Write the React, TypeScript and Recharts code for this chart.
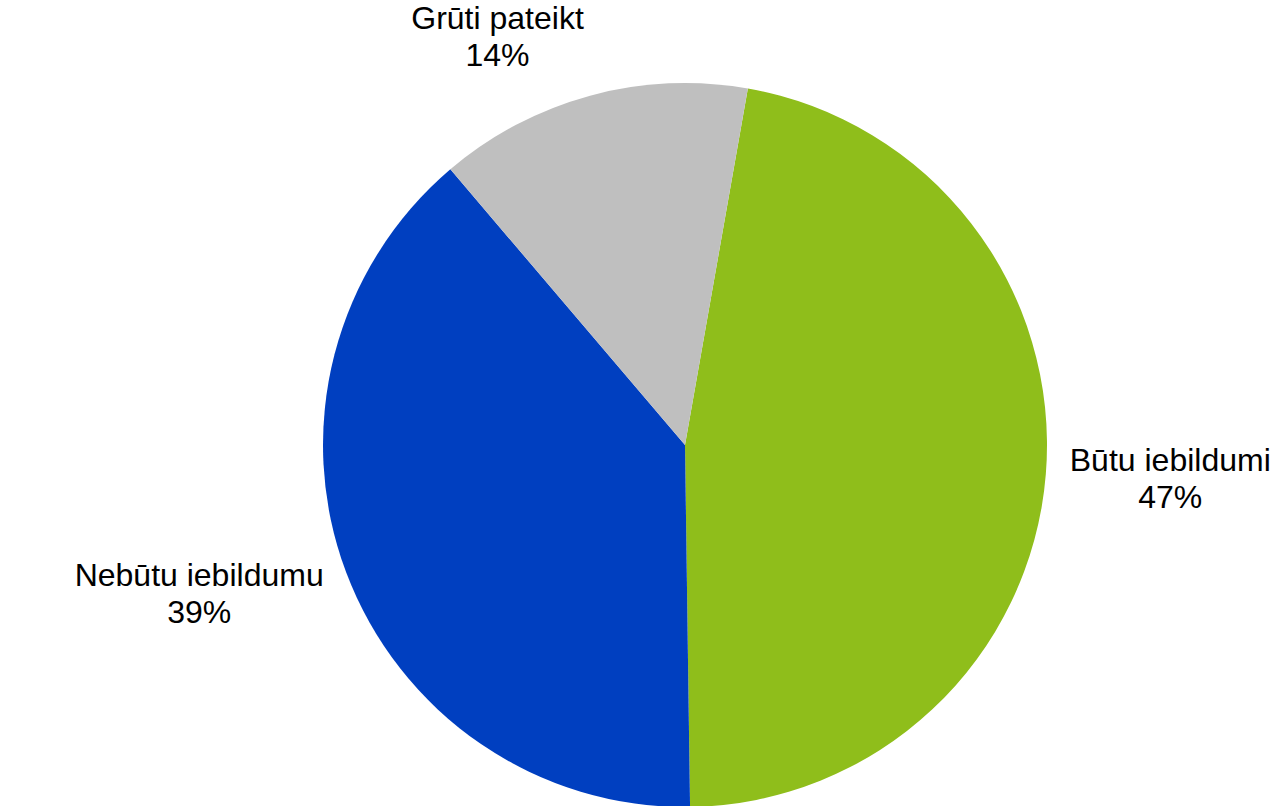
import { Cell, Pie, PieChart } from "recharts";

const categories: string[] = ["Būtu iebildumi", "Nebūtu iebildumu", "Grūti pateikt"];
const shares: number[] = [47, 39, 14];
const sliceColors: string[] = ["#8FBE1B", "#003FC0", "#BFBFBF"];

const chartData = categories.map((name: string, i: number) => ({
  name,
  value: shares[i],
}));

const FONT = "'Liberation Sans', Arial, sans-serif";
const FONT_SIZE = 32;
const LINE_HEIGHT = 37;

let measureCtx: CanvasRenderingContext2D | null = null;
function textWidth(s: string): number {
  if (!measureCtx) {
    measureCtx = document.createElement("canvas").getContext("2d");
  }
  if (!measureCtx) return s.length * FONT_SIZE * 0.5;
  measureCtx.font = `${FONT_SIZE}px ${FONT}`;
  return measureCtx.measureText(s).width;
}

// outside-end label, text block set beside the pie edge
const renderLabel = (props: any) => {
  const { cx, cy, midAngle, outerRadius, percent, name } = props;
  const RADIAN = Math.PI / 180;
  const cos = Math.cos(-midAngle * RADIAN);
  const sin = Math.sin(-midAngle * RADIAN);
  const r = outerRadius + 24;
  const px = cx + r * cos;
  const py = cy + r * sin;
  const line2 = `${Math.round((percent ?? 0) * 100)}%`;
  const w = Math.max(textWidth(name), textWidth(line2));
  const h = LINE_HEIGHT * 2;
  const bx = px + (w / 2) * Math.sign(cos);
  const by = py + (h / 2) * sin;

  return (
    <text
      textAnchor="middle"
      fill="#000000"
      fontSize={FONT_SIZE}
      fontFamily={FONT}
    >
      <tspan x={bx} y={by - LINE_HEIGHT / 2} dominantBaseline="central">
        {name}
      </tspan>
      <tspan x={bx} y={by + LINE_HEIGHT / 2} dominantBaseline="central">
        {line2}
      </tspan>
    </text>
  );
};

export default function App() {
  return (
    <div style={{ position: "absolute", left: 0, top: 0, background: "#ffffff" }}>
      <PieChart
        width={1284}
        height={806}
        margin={{ top: 0, right: 0, bottom: 0, left: 0 }}
      >
        <Pie
          data={chartData}
          dataKey="value"
          nameKey="name"
          cx={685}
          cy={445}
          outerRadius={362}
          startAngle={80}
          endAngle={-280}
          stroke="none"
          labelLine={false}
          label={renderLabel}
          isAnimationActive={false}
        >
          {chartData.map((item, index: number) => (
            <Cell key={item.name} fill={sliceColors[index]} />
          ))}
        </Pie>
      </PieChart>
    </div>
  );
}
